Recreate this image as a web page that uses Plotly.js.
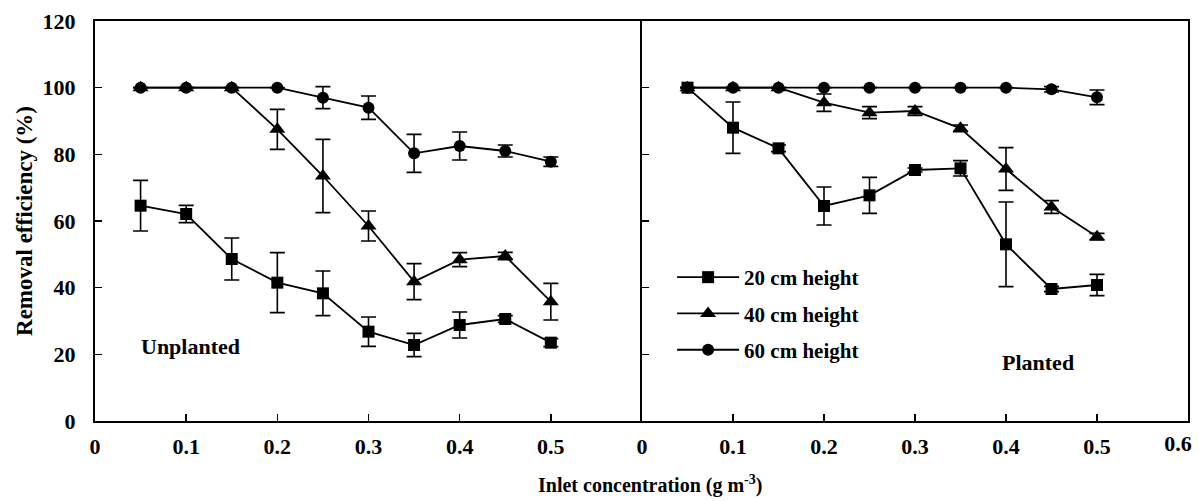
<!DOCTYPE html>
<html>
<head>
<meta charset="utf-8">
<script src="https://cdn.plot.ly/plotly-3.0.1.min.js"></script>
<style>html,body{margin:0;padding:0;background:#fff;}#chart{width:1199px;height:501px;}</style>
</head>
<body>
<div id="chart"></div>
<script>
// Inlet concentration (g m-3)
const conc = [0.05, 0.1, 0.15, 0.2, 0.25, 0.3, 0.35, 0.4, 0.45, 0.5];

// Unplanted
const unplanted20 = [64.6, 62.1, 48.6, 41.5, 38.3, 26.8, 22.8, 28.8, 30.6, 23.5];
const unplanted20Err = [7.6, 2.6, 6.3, 9.0, 6.7, 4.4, 3.5, 3.9, 1.0, 1.2];
const unplanted40 = [100, 100, 100, 87.5, 73.5, 58.5, 41.8, 48.4, 49.5, 35.8];
const unplanted40Err = [0, 0, 0, 6.0, 11.0, 4.5, 5.4, 2.1, 1.1, 5.5];
const unplanted60 = [100, 100, 100, 100, 97.0, 94.0, 80.3, 82.5, 81.0, 77.8];
const unplanted60Err = [0, 0, 0, 0, 3.3, 3.5, 5.7, 4.2, 1.8, 1.4];

// Planted
const planted20 = [100, 88.0, 81.8, 64.5, 67.7, 75.3, 75.8, 53.0, 39.6, 40.8];
const planted20Err = [0, 7.7, 1.0, 5.7, 5.4, 0.6, 2.3, 12.7, 0.8, 3.2];
const planted40 = [100, 100, 100, 95.5, 92.5, 93.0, 87.8, 75.6, 64.2, 55.3];
const planted40Err = [0, 0, 0, 2.6, 1.8, 1.3, 1.0, 6.4, 1.9, 1.0];
const planted60 = [100, 100, 100, 100, 100, 100, 100, 100, 99.5, 97.1];
const planted60Err = [0, 0, 0, 0, 0, 0, 0, 0, 0.8, 2.2];

const seriesNames = ['20 cm height', '40 cm height', '60 cm height'];
const symbols = ['square', 'triangle-up', 'circle'];
const markerSizes = [12, 14, 12];

const xTicksLeft = [0, 0.1, 0.2, 0.3, 0.4, 0.5];
const xTickTextLeft = ['0', '0.1', '0.2', '0.3', '0.4', '0.5'];
const xTicksRight = [0, 0.1, 0.2, 0.3, 0.4, 0.5, 0.6];
const xTickTextRight = ['0', '0.1', '0.2', '0.3', '0.4', '0.5', '0.6'];
const yTicks = [0, 20, 40, 60, 80, 100, 120];

const FONT = 'Liberation Serif, Times New Roman, serif';

function mk(x, y, err, i, xa, ya, show) {
  return {
    x: x, y: y, xaxis: xa, yaxis: ya, type: 'scatter', mode: 'lines+markers',
    name: seriesNames[i], showlegend: show, legendgroup: 'g' + i,
    line: {color: '#000', width: 1.8},
    marker: {symbol: symbols[i], size: markerSizes[i], color: '#000'},
    error_y: {type: 'data', array: err, visible: true, color: '#000', thickness: 1.6, width: 7.5}
  };
}

const data = [
  mk(conc, unplanted20, unplanted20Err, 0, 'x', 'y', false),
  mk(conc, unplanted40, unplanted40Err, 1, 'x', 'y', false),
  mk(conc, unplanted60, unplanted60Err, 2, 'x', 'y', false),
  mk(conc, planted20, planted20Err, 0, 'x2', 'y2', true),
  mk(conc, planted40, planted40Err, 1, 'x2', 'y2', true),
  // same range/domain as x2; x3 only carries the last tick label
  mk(conc, planted60, planted60Err, 2, 'x3', 'y2', true)
];

const tickFont = {family: FONT, size: 22, color: '#000', weight: 'bold'};
const split = 547 / 1093;
const nR = xTicksRight.length;

const layout = {
  width: 1199, height: 501,
  margin: {l: 95, r: 11, t: 21, b: 80, pad: 0},
  paper_bgcolor: '#fff', plot_bgcolor: '#fff',
  font: {family: FONT, color: '#000'},
  showlegend: true,
  legend: {
    x: 0.528, y: 0.41, xanchor: 'left', yanchor: 'top',
    font: {family: FONT, size: 21, color: '#000', weight: 'bold'},
    bgcolor: 'rgba(0,0,0,0)', tracegroupgap: 6, itemwidth: 62
  },
  xaxis: {
    domain: [0, split], range: [0, 0.6], anchor: 'y',
    tickvals: xTicksLeft, ticktext: xTickTextLeft,
    ticks: 'inside', ticklen: 7, tickwidth: 1.6, tickcolor: '#000',
    showline: true, linecolor: '#000', linewidth: 2, mirror: true,
    showgrid: false, zeroline: false, tickfont: tickFont, ticklabelstandoff: 5
  },
  xaxis2: {
    domain: [split, 1], range: [0, 0.6], anchor: 'y2',
    tickvals: xTicksRight.slice(0, nR - 1), ticktext: xTickTextRight.slice(0, nR - 1),
    ticks: 'inside', ticklen: 7, tickwidth: 1.6, tickcolor: '#000',
    showline: true, linecolor: '#000', linewidth: 2, mirror: true,
    showgrid: false, zeroline: false, tickfont: tickFont, ticklabelstandoff: 5
  },
  xaxis3: {
    domain: [split, 1], range: [0, 0.6], anchor: 'y2', overlaying: 'x2', side: 'bottom',
    tickvals: xTicksRight.slice(nR - 1), ticktext: xTickTextRight.slice(nR - 1),
    ticks: '', showline: false, showgrid: false, zeroline: false,
    tickfont: tickFont, ticklabelstandoff: 7, ticklabelshift: -10, ticklabeloverflow: 'allow'
  },
  yaxis: {
    range: [0, 120], anchor: 'x', tickvals: yTicks,
    ticks: 'inside', ticklen: 7, tickwidth: 1.6, tickcolor: '#000',
    showline: true, linecolor: '#000', linewidth: 2,
    showgrid: false, zeroline: false, tickfont: tickFont, ticklabelstandoff: 13,
    title: {text: 'Removal efficiency (%)', font: {family: FONT, size: 23, color: '#000', weight: 'bold'}, standoff: 4}
  },
  yaxis2: {
    range: [0, 120], anchor: 'x2', tickvals: yTicks, showticklabels: false,
    ticks: 'inside', ticklen: 7, tickwidth: 1.6, tickcolor: '#000',
    showline: true, linecolor: '#000', linewidth: 2, mirror: true,
    showgrid: false, zeroline: false
  },
  annotations: [
    {text: 'Unplanted', xref: 'x', yref: 'y', x: 0.105, y: 22.5, showarrow: false,
     font: {family: FONT, size: 22, color: '#000', weight: 'bold'}},
    {text: 'Planted', xref: 'x2', yref: 'y2', x: 0.435, y: 17.5, showarrow: false,
     font: {family: FONT, size: 22, color: '#000', weight: 'bold'}},
    {text: 'Inlet concentration (g m<sup>-3</sup>)', xref: 'paper', yref: 'paper',
     x: 0.508, y: -0.16, xanchor: 'center', yanchor: 'middle', showarrow: false,
     font: {family: FONT, size: 20, color: '#000', weight: 'bold'}}
  ]
};

Plotly.newPlot('chart', data, layout, {staticPlot: true, displayModeBar: false});
</script>
</body>
</html>
